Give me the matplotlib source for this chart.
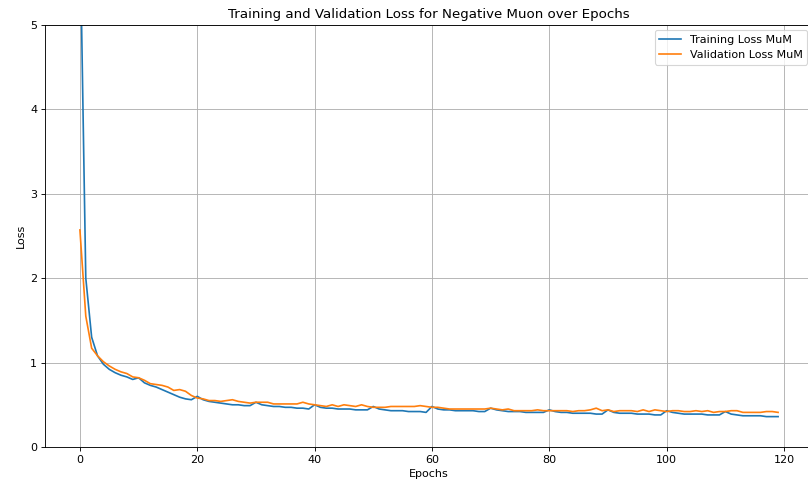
import numpy as np
import matplotlib
matplotlib.use("Agg")
import matplotlib.pyplot as plt

# loss values, one per epoch (0..119)
train_loss = [
  6.20, 2.00, 1.30, 1.08, 0.98, 0.92, 0.88, 0.85, 0.83, 0.80,
  0.82, 0.76, 0.73, 0.71, 0.68, 0.65, 0.62, 0.59, 0.57, 0.56,
  0.60, 0.56, 0.54, 0.53, 0.52, 0.51, 0.50, 0.50, 0.49, 0.49,
  0.53, 0.50, 0.49, 0.48, 0.48, 0.47, 0.47, 0.46, 0.46, 0.45,
  0.50, 0.47, 0.46, 0.46, 0.45, 0.45, 0.45, 0.44, 0.44, 0.44,
  0.48, 0.45, 0.44, 0.43, 0.43, 0.43, 0.42, 0.42, 0.42, 0.41,
  0.48, 0.45, 0.44, 0.44, 0.43, 0.43, 0.43, 0.43, 0.42, 0.42,
  0.46, 0.44, 0.43, 0.42, 0.42, 0.42, 0.41, 0.41, 0.41, 0.41,
  0.44, 0.42, 0.41, 0.41, 0.40, 0.40, 0.40, 0.40, 0.39, 0.39,
  0.44, 0.41, 0.40, 0.40, 0.40, 0.39, 0.39, 0.39, 0.38, 0.38,
  0.43, 0.41, 0.40, 0.39, 0.39, 0.39, 0.39, 0.38, 0.38, 0.38,
  0.42, 0.39, 0.38, 0.37, 0.37, 0.37, 0.37, 0.36, 0.36, 0.36,
]
val_loss = [
  2.57, 1.55, 1.17, 1.08, 1.01, 0.96, 0.92, 0.89, 0.87, 0.83,
  0.82, 0.79, 0.75, 0.74, 0.73, 0.71, 0.67, 0.68, 0.66, 0.61,
  0.58, 0.57, 0.55, 0.55, 0.54, 0.55, 0.56, 0.54, 0.53, 0.52,
  0.53, 0.53, 0.53, 0.51, 0.51, 0.51, 0.51, 0.51, 0.53, 0.51,
  0.50, 0.49, 0.48, 0.50, 0.48, 0.50, 0.49, 0.48, 0.50, 0.48,
  0.47, 0.47, 0.47, 0.48, 0.48, 0.48, 0.48, 0.48, 0.49, 0.48,
  0.47, 0.47, 0.46, 0.45, 0.45, 0.45, 0.45, 0.45, 0.45, 0.45,
  0.46, 0.45, 0.44, 0.45, 0.43, 0.43, 0.43, 0.43, 0.44, 0.43,
  0.43, 0.43, 0.43, 0.43, 0.42, 0.43, 0.43, 0.44, 0.46, 0.43,
  0.44, 0.42, 0.43, 0.43, 0.43, 0.42, 0.44, 0.42, 0.44, 0.43,
  0.42, 0.43, 0.43, 0.42, 0.42, 0.43, 0.42, 0.43, 0.41, 0.42,
  0.42, 0.43, 0.43, 0.41, 0.41, 0.41, 0.41, 0.42, 0.42, 0.41,
]
epochs = np.arange(len(train_loss))

fig = plt.figure(figsize=(10.1, 6.075), dpi=80)
# axes run a little past the right edge, as in the cropped original
ax = fig.add_axes([0.0557, 0.0802, 0.9505, 0.869])
ax.plot(epochs, train_loss, label="Training Loss MuM")
ax.plot(epochs, val_loss, label="Validation Loss MuM")
ax.set_ylim(0, 5)
ax.set_xlabel("Epochs")
ax.set_ylabel("Loss")
ax.set_title("Training and Validation Loss for Negative Muon over Epochs")
ax.legend(loc="upper right")
ax.grid(True)

fig.savefig("out.png", dpi=80)
